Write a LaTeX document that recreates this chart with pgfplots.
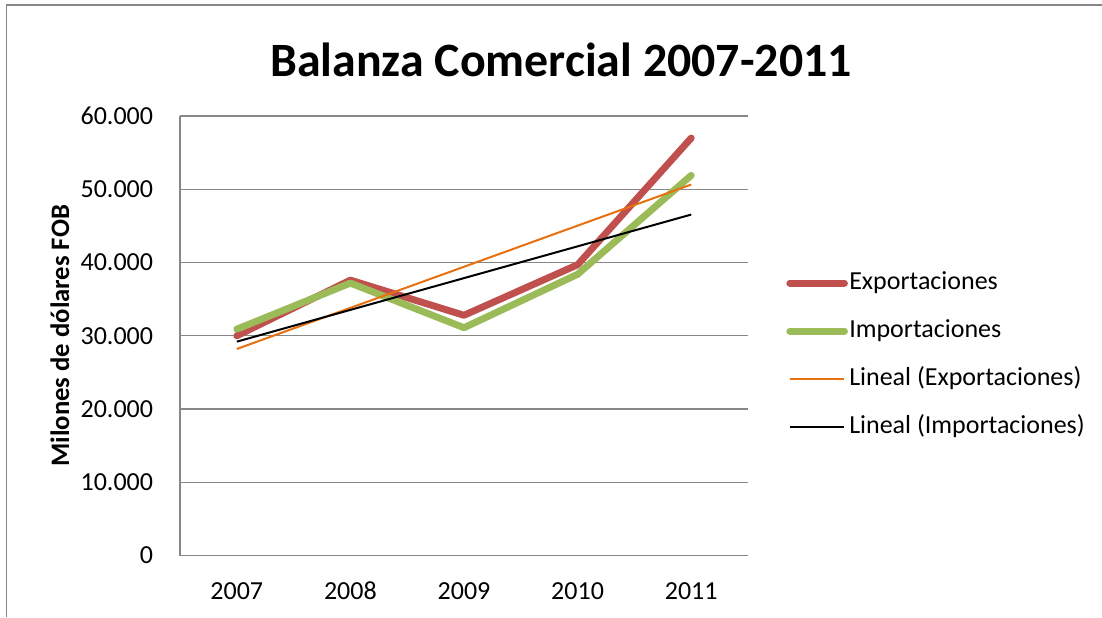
\documentclass[border=0pt]{standalone}
\usepackage{pgfplots}
\pgfplotsset{compat=1.18}
\usepackage{fontspec}
\setmainfont{Carlito}
\definecolor{expred}{HTML}{C0504D}
\definecolor{impgreen}{HTML}{9BBB59}
\definecolor{trendorange}{HTML}{E8700E}
\definecolor{gridgray}{HTML}{878787}
\begin{document}
\begin{tikzpicture}
\useasboundingbox (0,0) rectangle (826.5pt,462.75pt);
\draw[gridgray, line width=1.1pt] (4.9pt,0) -- (4.9pt,459pt) -- (826.5pt,459pt);
\begin{axis}[
  at={(135pt,46.1pt)}, anchor=south west,
  scale only axis, width=426pt, height=329.6pt,
  xmin=0.5, xmax=5.5, ymin=0, ymax=60000,
  xtick={1,2,3,4,5}, xticklabels={2007,2008,2009,2010,2011},
  ytick={0,10000,20000,30000,40000,50000,60000},
  scaled y ticks=false,
  /pgf/number format/.cd, 1000 sep={.}, assume math mode=true,
  /pgfplots/.cd,
  major tick length=0pt,
  axis x line*=bottom, axis y line*=left,
  axis line style={gridgray, line width=0.9pt, -},
  ymajorgrids, grid style={gridgray, line width=0.9pt},
  tick label style={font=\fontsize{19.5pt}{22pt}\selectfont, inner sep=0pt},
  yticklabel style={anchor=east, xshift=-20pt},
  xticklabel style={anchor=north, yshift=-20pt, text height=12.5pt, text depth=0pt},
  title={Balanza Comercial 2007-2011},
  every axis title/.style={at={(axis description cs:0.6708,1.1274)}, anchor=center, font=\bfseries\fontsize{35.9pt}{40pt}\selectfont},
  ylabel={Milones de dólares FOB},
  every axis y label/.style={at={(axis description cs:-0.2113,0.5)}, rotate=90, anchor=center, font=\bfseries\fontsize{20pt}{24pt}\selectfont},
  legend style={at={(axis description cs:1.0670,0.456)}, anchor=west, draw=none, fill=none, inner sep=0pt,
    font=\fontsize{19.5pt}{22pt}\selectfont, row sep=18.5pt,
    nodes={inner sep=0pt, text height=13.5pt, text depth=4pt},
    /tikz/every odd column/.append style={column sep=1pt}},
  legend cell align=left,
  legend image code/.code={\draw[#1] (0pt,0pt) -- (41pt,0pt);},
]
\addplot[expred, line width=5.2pt, line cap=round, line join=round] coordinates {(1,30000)(2,37600)(3,32800)(4,39700)(5,57000)};
\addlegendentry{Exportaciones}
\addplot[impgreen, line width=5.2pt, line cap=round, line join=round] coordinates {(1,30900)(2,37200)(3,31100)(4,38400)(5,51900)};
\addlegendentry{Importaciones}
\addplot[trendorange, line width=1.5pt] coordinates {(1,28200)(5,50650)};
\addlegendentry{Lineal (Exportaciones)}
\addplot[black, line width=1.5pt] coordinates {(1,29200)(5,46550)};
\addlegendentry{Lineal (Importaciones)}
\end{axis}
\end{tikzpicture}
\end{document}
